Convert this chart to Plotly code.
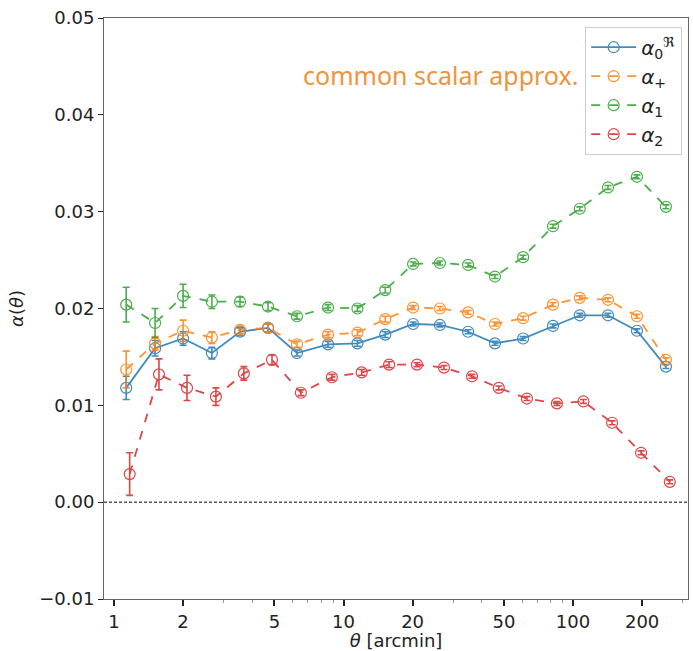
import plotly.graph_objects as go

theta = [1.13, 1.51, 2.00, 2.67, 3.54, 4.69, 6.27, 8.56, 11.5, 15.2,
         20.1, 26.3, 34.9, 45.7, 60.6, 81.8, 107, 142, 190, 254]
theta_red = [1.17, 1.57, 2.08, 2.78, 3.68, 4.88, 6.52, 8.9, 12.0, 15.8,
             20.9, 27.4, 36.3, 47.5, 63.0, 85.1, 111, 148, 198, 264]

alpha0 = [0.0118, 0.0159, 0.0169, 0.0154, 0.0176, 0.0180, 0.0154, 0.0163, 0.0164, 0.0173,
          0.0184, 0.0183, 0.0176, 0.0164, 0.0169, 0.0182, 0.0193, 0.0193, 0.0177, 0.0140]
alpha0_err = [0.0012, 0.0008, 0.0007, 0.0006, 0.0004, 0.0004, 0.0003, 0.0003, 0.0003, 0.0003,
              0.0002, 0.0002, 0.0002, 0.0002, 0.0002, 0.0002, 0.0002, 0.0002, 0.0002, 0.0002]

alpha_plus = [0.0137, 0.0164, 0.0177, 0.0170, 0.0178, 0.0180, 0.0163, 0.0173, 0.0175, 0.0189,
              0.0201, 0.0200, 0.0196, 0.0184, 0.0190, 0.0204, 0.0211, 0.0209, 0.0192, 0.0147]
alpha_plus_err = [0.0019, 0.0007, 0.0011, 0.0006, 0.0004, 0.0004, 0.0003, 0.0003, 0.0003, 0.0003,
                  0.0002, 0.0002, 0.0002, 0.0002, 0.0002, 0.0002, 0.0002, 0.0002, 0.0002, 0.0002]

alpha1 = [0.0204, 0.0185, 0.0213, 0.0207, 0.0207, 0.0202, 0.0192, 0.0201, 0.0200, 0.0219,
          0.0246, 0.0247, 0.0245, 0.0233, 0.0253, 0.0285, 0.0303, 0.0325, 0.0336, 0.0305]
alpha1_err = [0.0018, 0.0015, 0.0012, 0.0007, 0.0005, 0.0004, 0.0003, 0.0003, 0.0003, 0.0003,
              0.0002, 0.0002, 0.0002, 0.0002, 0.0002, 0.0002, 0.0002, 0.0002, 0.0002, 0.0002]

alpha2 = [0.0029, 0.0132, 0.0118, 0.0109, 0.0133, 0.0147, 0.0113, 0.0129, 0.0134, 0.0142,
          0.0142, 0.0139, 0.0130, 0.0118, 0.0107, 0.0102, 0.0104, 0.0082, 0.0051, 0.0021]
alpha2_err = [0.0022, 0.0016, 0.0013, 0.0009, 0.0007, 0.0005, 0.0003, 0.0003, 0.0003, 0.0003,
              0.0002, 0.0002, 0.0002, 0.0002, 0.0002, 0.0002, 0.0002, 0.0002, 0.0002, 0.0002]

labels = ["<i>α</i><sub>0</sub><sup>ℜ</sup>", "<i>α</i><sub>+</sub>",
          "<i>α</i><sub>1</sub>", "<i>α</i><sub>2</sub>"]
colors = ["#1f77b4", "#ff7f0e", "#2ca02c", "#d62728"]
dashes = ["solid", "dash", "dash", "dash"]
series = [(theta, alpha0, alpha0_err), (theta, alpha_plus, alpha_plus_err),
          (theta, alpha1, alpha1_err), (theta_red, alpha2, alpha2_err)]

fig = go.Figure()
for (xs, ys, es), lab, col, dsh in zip(series, labels, colors, dashes):
    fig.add_trace(go.Scatter(
        x=xs, y=ys, name=lab, mode="lines+markers", opacity=0.85,
        line=dict(color=col, width=1.8, dash=dsh),
        marker=dict(symbol="circle-open", size=11, color=col, line=dict(width=1.2, color=col)),
        error_y=dict(type="data", array=es, visible=True, color=col, thickness=1.6, width=3.5),
    ))

fig.add_hline(y=0, line=dict(color="black", width=1, dash="3px,2px"))

fig.add_annotation(text="common scalar approx.", xref="paper", yref="paper",
                   x=0.577, y=0.902, xanchor="center", yanchor="middle", showarrow=False,
                   font=dict(family="Noto Sans", size=25, color="#ec9440"))

major = [1, 2, 5, 10, 20, 50, 100, 200]
minor_vals = [3, 4, 6, 7, 8, 9, 30, 40, 60, 70, 80, 90, 300]

fig.update_layout(
    width=693, height=651,
    margin=dict(l=104, r=5, t=18, b=52),
    paper_bgcolor="white", plot_bgcolor="white",
    font=dict(family="DejaVu Sans", size=18, color="#222"),
    showlegend=True,
    legend=dict(x=0.99, y=0.985, xanchor="right", yanchor="top",
                bgcolor="rgba(255,255,255,0.85)", bordercolor="#cccccc", borderwidth=1,
                font=dict(size=20), itemwidth=45, tracegroupgap=0),
    xaxis=dict(type="log", range=[-0.0436, 2.501],
               tickvals=major, ticktext=[str(v) for v in major],
               ticks="outside", ticklen=6, tickwidth=1.5, tickcolor="#222",
               showgrid=False, zeroline=False,
               showline=True, linecolor="#666", linewidth=1, mirror=True,
               minor=dict(tickvals=minor_vals, ticks="outside", ticklen=3, tickwidth=0.8,
                          tickcolor="#999", showgrid=False),
               title=dict(text="<i>θ</i> [arcmin]", standoff=2, font=dict(size=18))),
    yaxis=dict(range=[-0.01, 0.05], tickvals=[-0.01, 0.0, 0.01, 0.02, 0.03, 0.04, 0.05],
               ticktext=["−0.01", "0.00", "0.01", "0.02", "0.03", "0.04", "0.05"],
               ticks="outside", ticklen=5, tickwidth=1, tickcolor="#222",
               showgrid=False, zeroline=False,
               showline=True, linecolor="#666", linewidth=1, mirror=True,
               title=dict(text="<i>α</i>(<i>θ</i>)", standoff=10, font=dict(size=18))),
)

fig.write_html("out.html")
